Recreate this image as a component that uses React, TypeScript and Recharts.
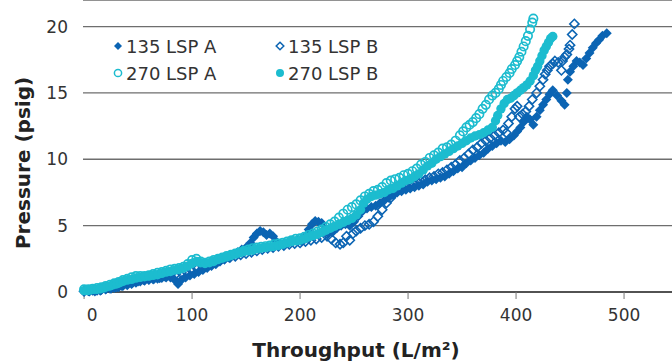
import React from 'react'
import {CartesianGrid, Scatter, ScatterChart, XAxis, YAxis} from 'recharts'

const DARK = '#0b64b3'
const CYAN = '#1cbccf'
const FONT = '"DejaVu Sans", Verdana, sans-serif'

const xTicks = [0, 100, 200, 300, 400, 500]
const yTicks = [0, 5, 10, 15, 20]

// [throughput L/m2, pressure psig]
const lsp135A: [number, number][] = [
    [0, 0.05], [4, 0.05], [8, 0.1], [12, 0.1], [16, 0.15], [20, 0.2], [24, 0.25], [28, 0.3], [32, 0.35], [36, 0.45],
    [40, 0.5], [44, 0.6], [48, 0.7], [52, 0.8], [56, 0.85], [60, 0.9], [64, 0.95], [68, 1.0], [72, 1.05], [76, 1.1],
    [80, 1.1], [84, 0.9], [87, 0.6], [90, 0.9], [94, 1.1], [98, 1.25], [102, 1.35], [106, 1.5], [110, 1.65], [114, 1.8],
    [118, 1.95], [122, 2.1], [126, 2.3], [130, 2.45], [134, 2.6], [138, 2.8], [142, 3.0], [146, 3.2], [150, 3.35], [154, 3.7],
    [157, 4.1], [160, 4.4], [163, 4.6], [166, 4.5], [169, 4.3], [172, 4.4], [175, 4.2], [178, 3.8], [181, 3.6], [185, 3.6],
    [189, 3.7], [193, 3.85], [197, 3.9], [201, 3.85], [205, 4.2], [208, 4.7], [211, 5.1], [214, 5.35], [217, 5.3], [220, 5.2],
    [223, 4.7], [226, 4.4], [230, 4.5], [234, 4.8], [238, 5.0], [242, 5.1], [246, 5.0], [250, 5.3], [254, 5.7], [258, 6.1],
    [262, 6.3], [266, 6.4], [270, 6.5], [274, 6.7], [278, 6.9], [282, 7.1], [286, 7.3], [290, 7.5], [294, 7.6], [298, 7.7],
    [302, 7.8], [306, 7.9], [310, 8.0], [314, 8.1], [318, 8.3], [322, 8.4], [326, 8.5], [330, 8.6], [334, 8.7], [338, 8.9],
    [342, 9.1], [346, 9.3], [350, 9.4], [354, 9.7], [358, 9.9], [362, 10.1], [366, 10.3], [370, 10.5], [374, 10.8], [378, 11.0],
    [382, 11.2], [386, 11.4], [390, 11.3], [394, 11.5], [398, 11.8], [401, 12.1], [404, 12.4], [407, 12.8], [410, 13.2], [413, 13.0],
    [416, 12.6], [419, 13.2], [422, 13.7], [425, 14.1], [428, 14.5], [431, 14.9], [434, 15.2], [438, 14.8], [442, 14.4], [445, 14.1],
    [447, 15.0], [448, 16.0], [450, 16.6], [453, 17.0], [456, 17.4], [459, 17.3], [462, 17.1], [465, 17.6], [468, 18.0], [471, 18.4],
    [474, 18.75], [477, 19.0], [480, 19.3], [484, 19.5],
]

const lsp135B: [number, number][] = [
    [0, 0.05], [5, 0.1], [10, 0.1], [15, 0.15], [20, 0.25], [25, 0.3], [30, 0.4], [35, 0.5], [40, 0.65], [45, 0.75],
    [50, 0.85], [55, 0.95], [60, 1.0], [65, 1.05], [70, 1.1], [75, 1.2], [80, 1.3], [85, 1.35], [90, 1.45], [95, 1.5],
    [100, 1.6], [105, 1.75], [110, 1.9], [115, 2.05], [120, 2.2], [125, 2.35], [130, 2.5], [135, 2.6], [140, 2.7], [145, 2.8],
    [150, 2.9], [155, 3.0], [160, 3.1], [165, 3.2], [170, 3.3], [175, 3.35], [180, 3.45], [185, 3.5], [190, 3.6], [195, 3.65],
    [200, 3.7], [205, 3.8], [210, 3.9], [215, 4.0], [220, 4.1], [225, 4.2], [229, 4.0], [233, 3.7], [237, 3.6], [240, 3.7],
    [243, 4.2], [246, 3.9], [249, 4.4], [252, 4.6], [256, 4.8], [260, 5.0], [264, 5.1], [268, 5.3], [272, 5.7], [276, 6.2],
    [280, 6.7], [284, 7.1], [288, 7.5], [292, 7.8], [296, 8.0], [300, 8.1], [304, 8.2], [308, 8.3], [312, 8.35], [316, 8.45],
    [320, 8.6], [324, 8.7], [328, 8.9], [332, 9.0], [336, 9.2], [340, 9.4], [344, 9.6], [348, 9.9], [352, 10.1], [356, 10.4],
    [360, 10.7], [364, 10.9], [368, 11.2], [372, 11.4], [376, 11.6], [380, 11.8], [384, 12.0], [388, 12.2], [391, 12.0], [393, 12.7],
    [396, 13.2], [399, 13.8], [401, 14.0], [403, 13.2], [406, 13.4], [409, 13.6], [412, 14.0], [415, 14.5], [419, 15.0], [422, 15.5],
    [425, 16.0], [427, 16.4], [429, 16.7], [431, 17.0], [434, 17.2], [436, 17.4], [439, 17.3], [442, 16.7], [443, 17.4], [445, 17.7],
    [447, 17.9], [449, 18.3], [450, 18.6], [452, 19.4], [454, 20.2],
]

const lsp270A: [number, number][] = [
    [0, 0.2], [4, 0.2], [8, 0.25], [12, 0.3], [16, 0.35], [20, 0.45], [24, 0.55], [28, 0.65], [32, 0.75], [36, 0.9],
    [40, 1.0], [44, 1.1], [48, 1.2], [52, 1.2], [56, 1.2], [60, 1.25], [64, 1.35], [68, 1.45], [72, 1.5], [76, 1.6],
    [80, 1.7], [84, 1.75], [88, 1.8], [92, 1.9], [96, 2.1], [100, 2.4], [104, 2.5], [108, 2.3], [112, 2.2], [116, 2.3],
    [120, 2.4], [124, 2.5], [128, 2.6], [132, 2.7], [136, 2.8], [140, 2.9], [144, 3.0], [148, 3.1], [152, 3.2], [156, 3.3],
    [160, 3.35], [164, 3.4], [168, 3.45], [172, 3.5], [176, 3.6], [180, 3.65], [184, 3.7], [188, 3.8], [192, 3.9], [196, 4.0],
    [200, 4.05], [204, 4.15], [208, 4.3], [212, 4.4], [216, 4.55], [220, 4.7], [224, 4.9], [228, 5.1], [232, 5.3], [236, 5.6],
    [240, 5.9], [244, 6.2], [248, 6.4], [252, 6.6], [256, 6.9], [260, 7.2], [264, 7.4], [268, 7.6], [272, 7.7], [276, 7.9],
    [280, 8.2], [284, 8.4], [288, 8.5], [292, 8.6], [296, 8.8], [300, 8.9], [304, 9.1], [308, 9.3], [312, 9.6], [316, 9.8],
    [320, 10.1], [324, 10.3], [328, 10.5], [332, 10.8], [336, 10.9], [340, 11.1], [344, 11.4], [348, 11.8], [351, 12.1], [354, 12.4],
    [357, 12.6], [360, 12.8], [363, 13.1], [366, 13.4], [369, 13.8], [372, 14.1], [375, 14.5], [378, 14.8], [381, 15.0], [384, 15.3],
    [386, 15.6], [388, 15.9], [391, 16.2], [394, 16.5], [396, 16.8], [399, 17.1], [401, 17.4], [403, 17.7], [405, 18.1], [407, 18.5],
    [409, 18.9], [411, 19.3], [413, 19.8], [415, 20.3], [416, 20.6],
]

const lsp270B: [number, number][] = [
    [0, 0.1], [3, 0.1], [6, 0.15], [9, 0.2], [12, 0.2], [15, 0.25], [18, 0.3], [21, 0.4], [24, 0.45], [27, 0.55],
    [30, 0.6], [33, 0.7], [36, 0.8], [40, 0.9], [44, 0.95], [48, 1.05], [52, 1.1], [56, 1.15], [60, 1.2], [64, 1.25],
    [68, 1.3], [72, 1.4], [76, 1.5], [80, 1.55], [84, 1.65], [88, 1.7], [92, 1.8], [96, 1.95], [100, 2.15], [104, 2.3],
    [108, 2.2], [112, 2.15], [116, 2.2], [120, 2.3], [124, 2.45], [128, 2.55], [132, 2.65], [136, 2.75], [140, 2.85], [144, 2.95],
    [148, 3.05], [152, 3.1], [156, 3.15], [160, 3.25], [164, 3.3], [168, 3.35], [172, 3.4], [176, 3.45], [180, 3.5], [184, 3.6],
    [188, 3.7], [192, 3.8], [196, 3.85], [200, 3.9], [204, 4.0], [208, 4.15], [212, 4.25], [216, 4.35], [220, 4.5], [224, 4.65],
    [228, 4.8], [232, 4.95], [236, 5.1], [240, 5.25], [244, 5.4], [248, 5.55], [252, 5.8], [256, 6.2], [259, 6.7], [262, 7.0],
    [266, 7.2], [270, 7.3], [274, 7.4], [278, 7.5], [282, 7.7], [286, 7.8], [290, 8.0], [294, 8.2], [298, 8.4], [302, 8.5],
    [306, 8.7], [310, 8.9], [314, 9.2], [318, 9.5], [322, 9.7], [326, 10.0], [330, 10.2], [334, 10.4], [338, 10.6], [342, 10.8],
    [346, 11.0], [350, 11.2], [354, 11.4], [358, 11.6], [362, 11.75], [366, 11.85], [370, 12.0], [374, 12.2], [378, 12.4], [381, 12.9],
    [383, 13.3], [386, 13.8], [389, 14.2], [392, 14.5], [395, 14.6], [398, 14.8], [401, 15.0], [404, 15.2], [407, 15.4], [410, 15.6],
    [413, 15.9], [416, 16.3], [418, 16.7], [420, 17.0], [422, 17.4], [424, 17.8], [426, 18.2], [428, 18.5], [430, 18.8], [432, 19.1],
    [434, 19.25],
]

const seriesNames = ['135 LSP A', '135 LSP B', '270 LSP A', '270 LSP B']

const toPoints = (rows: [number, number][]) => rows.map(([x, y]) => ({x, y}))

const FilledDiamond = (props: any) => {
    const {cx, cy} = props
    const r = 5
    return <path d={`M${cx},${cy - r}L${cx + r},${cy}L${cx},${cy + r}L${cx - r},${cy}Z`} fill={DARK} />
}

const OpenDiamond = (props: any) => {
    const {cx, cy} = props
    const r = 4.6
    return <path d={`M${cx},${cy - r}L${cx + r},${cy}L${cx},${cy + r}L${cx - r},${cy}Z`} fill="none" stroke={DARK} strokeWidth={1.6} />
}

const OpenCircle = (props: any) => {
    const {cx, cy} = props
    return <circle cx={cx} cy={cy} r={4.2} fill="none" stroke={CYAN} strokeWidth={1.7} />
}

const FilledCircle = (props: any) => {
    const {cx, cy} = props
    return <circle cx={cx} cy={cy} r={4.7} fill={CYAN} />
}

const XTick = (props: any) => {
    const {x, y, payload} = props
    // the zero label sits a bit right of its tick in the original
    const shift = payload.value === 0 ? 8 : 0
    return (
        <text x={x + shift} y={y + 20} textAnchor="middle" fill="#333" fontSize={17} fontFamily={FONT}>
            {payload.value}
        </text>
    )
}

const legendMarker = (i: number) => {
    if (i === 0) return <path d="M5,1L9,5L5,9L1,5Z" fill={DARK} />
    if (i === 1) return <path d="M5,1.2L8.8,5L5,8.8L1.2,5Z" fill="none" stroke={DARK} strokeWidth={1.5} />
    if (i === 2) return <circle cx={5} cy={5} r={3.6} fill="none" stroke={CYAN} strokeWidth={1.5} />
    return <circle cx={5} cy={5} r={4} fill={CYAN} />
}

const ChartLegend = () => (
    <div style={{position: 'absolute', top: 35, left: 113, display: 'grid', gridTemplateColumns: '162px 140px', rowGap: 5, fontFamily: FONT, fontSize: 18, color: '#333'}}>
        {seriesNames.map((name, i) => (
            <div key={name} style={{display: 'flex', alignItems: 'center', height: 22}}>
                <svg width={10} height={10} style={{marginRight: 3}}>{legendMarker(i)}</svg>
                <span>{name}</span>
            </div>
        ))}
    </div>
)

export default function App() {
    return (
        <div style={{position: 'relative', width: 672, height: 362}}>
            <style>{`body{margin:0}`}</style>
            <ScatterChart width={672} height={362} margin={{top: 0, right: 0, bottom: 0, left: 0}}>
                <CartesianGrid vertical={false} stroke="#6e6e6e" strokeWidth={1.3} />
                <XAxis
                    type="number"
                    dataKey="x"
                    domain={[-1, 544.4]}
                    ticks={xTicks}
                    height={70}
                    axisLine={{stroke: '#3c3c3c', strokeWidth: 1.5}}
                    tickLine={{stroke: '#777'}}
                    tickSize={7}
                    tick={<XTick />}
                    label={{
                        content: () => (
                            <text x={356} y={357} textAnchor="middle" fontSize={20} fontWeight="bold" fill="#222" fontFamily={FONT}>
                                Throughput (L/m²)
                            </text>
                        ),
                    }}
                />
                <YAxis
                    type="number"
                    dataKey="y"
                    domain={[0, 22]}
                    ticks={yTicks}
                    width={83}
                    axisLine={false}
                    tickLine={false}
                    tickMargin={9}
                    tick={{fontSize: 17, fill: '#333', fontFamily: FONT}}
                    label={{
                        content: () => (
                            <text x={30} y={163} transform="rotate(-90, 30, 163)" textAnchor="middle" fontSize={20} fontWeight="bold" fill="#222" fontFamily={FONT}>
                                Pressure (psig)
                            </text>
                        ),
                    }}
                />
                <Scatter name={seriesNames[0]} data={toPoints(lsp135A)} shape={FilledDiamond} isAnimationActive={false} />
                <Scatter name={seriesNames[1]} data={toPoints(lsp135B)} shape={OpenDiamond} isAnimationActive={false} />
                <Scatter name={seriesNames[2]} data={toPoints(lsp270A)} shape={OpenCircle} isAnimationActive={false} />
                <Scatter name={seriesNames[3]} data={toPoints(lsp270B)} shape={FilledCircle} isAnimationActive={false} />
            </ScatterChart>
            <ChartLegend />
        </div>
    )
}
